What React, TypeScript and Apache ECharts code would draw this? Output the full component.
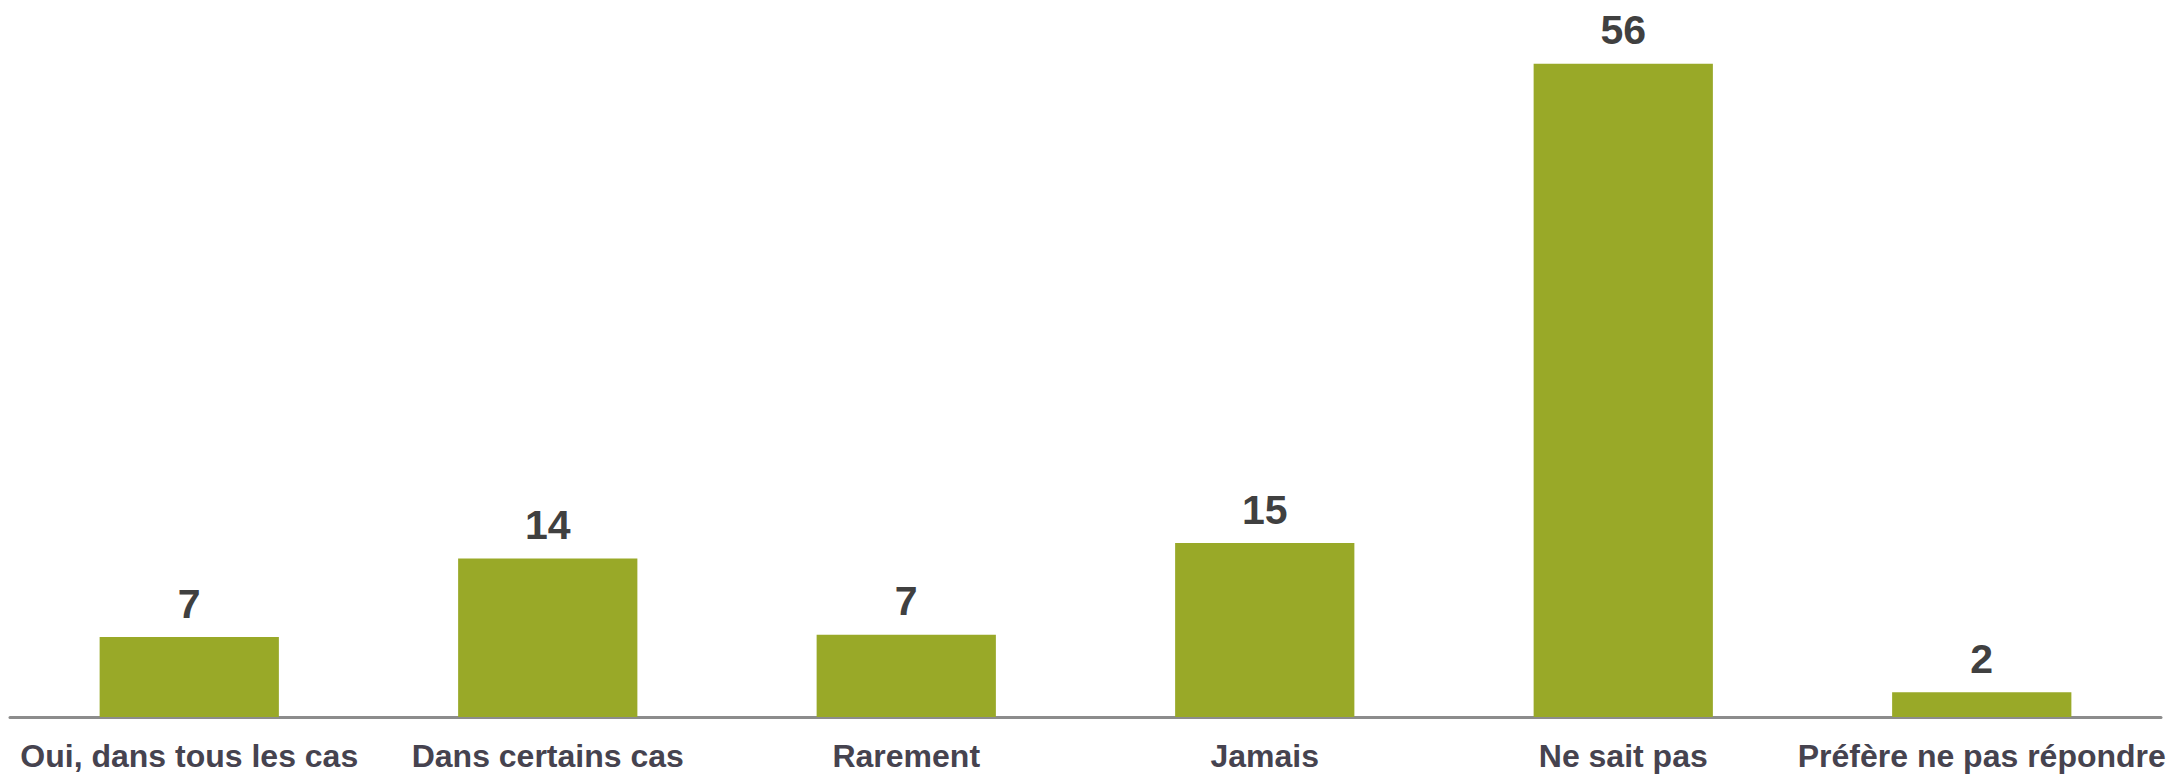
import React, { useEffect, useRef } from "react";
import * as echarts from "echarts";

const categories = [
  "Oui, dans tous les cas",
  "Dans certains cas",
  "Rarement",
  "Jamais",
  "Ne sait pas",
  "Préfère ne pas répondre",
];
const values = [6.8, 13.5, 7.0, 14.8, 55.6, 2.1];

export default function App() {
  const ref = useRef<HTMLDivElement>(null);
  useEffect(() => {
    document.body.style.margin = "0";
    const chart = echarts.init(ref.current!, null, { renderer: "svg" });
    chart.setOption({
      animation: false,
      backgroundColor: "#ffffff",
      grid: { left: 10, right: 11, top: 12, bottom: 59, containLabel: false },
      xAxis: {
        type: "category",
        data: categories,
        axisLine: { show: true, lineStyle: { color: "#8c8c8c", width: 3 } },
        axisTick: { show: false },
        axisLabel: {
          interval: 0,
          margin: 23,
          color: "#46434f",
          fontFamily: "Liberation Sans, Arial, sans-serif",
          fontWeight: "bold",
          fontSize: 32,
        },
      },
      yAxis: {
        type: "value",
        min: 0,
        max: 60,
        show: false,
        splitLine: { show: false },
      },
      series: [
        {
          type: "bar",
          data: values,
          barWidth: "50%",
          itemStyle: { color: "#99a928" },
          label: {
            show: true,
            position: "top",
            distance: 13,
            color: "#404040",
            fontFamily: "Liberation Sans, Arial, sans-serif",
            fontWeight: "bold",
            fontSize: 41,
            formatter: (p: any) => String(Math.round(p.value)),
          },
        },
      ],
    });
    return () => chart.dispose();
  }, []);
  return <div ref={ref} style={{ width: 2172, height: 776 }} />;
}
